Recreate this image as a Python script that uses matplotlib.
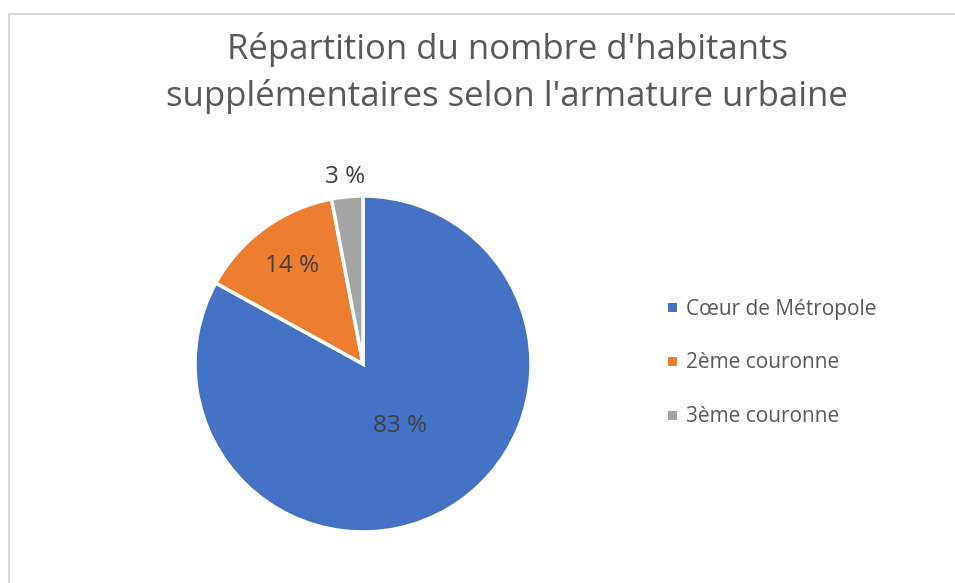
import numpy as np
import matplotlib
matplotlib.use('Agg')
import matplotlib.pyplot as plt
from matplotlib.patches import Rectangle

# Données
categories = ['Cœur de Métropole', '2ème couronne', '3ème couronne']
valeurs = [83, 14, 3]
couleurs = ['#4472C4', '#ED7D31', '#A5A5A5']
etiquettes = ['83 %', '14 %', '3 %']

plt.rcParams['font.family'] = ['Open Sans', 'DejaVu Sans']

fig = plt.figure(figsize=(9.55, 5.83), dpi=100)

# cadre du graphique
fig.patches.append(Rectangle((8.5 / 955, -0.1), 1.2, 1 - 14.5 / 583 + 0.1,
                             transform=fig.transFigure, fill=False,
                             edgecolor='#D9D9D9', linewidth=1.5))

ax = fig.add_axes([195 / 955, 51 / 583, 336 / 955, 336 / 583])
wedges, _ = ax.pie(valeurs, colors=couleurs, startangle=90, counterclock=False,
                   radius=1, wedgeprops=dict(edgecolor='white', linewidth=2.5))
ax.set_xlim(-1, 1)
ax.set_ylim(-1, 1)
ax.set_aspect('equal')

# position des étiquettes (distance au centre)
distances = [0.43, 0.72, 1.12]
for w, txt, d in zip(wedges, etiquettes, distances):
    ang = np.deg2rad((w.theta1 + w.theta2) / 2)
    ax.text(d * np.cos(ang), d * np.sin(ang), txt, ha='center', va='center',
            fontsize=17.5, color='#404040')

fig.text(507 / 955, 1 - 73 / 583,
         "Répartition du nombre d'habitants\nsupplémentaires selon l'armature urbaine",
         ha='center', va='center', fontsize=25, color='#595959', linespacing=1.42)

# légende
for i, (cat, c) in enumerate(zip(categories, couleurs)):
    y = 1 - (307 + 54 * i) / 583
    fig.patches.append(Rectangle((668 / 955, y - 4.5 / 583), 9 / 955, 9 / 583,
                                 transform=fig.transFigure, facecolor=c,
                                 edgecolor='none'))
    fig.text(686 / 955, y - 2 / 583, cat, ha='left', va='center', fontsize=15,
             color='#595959')

plt.savefig('out.png', dpi=100)
